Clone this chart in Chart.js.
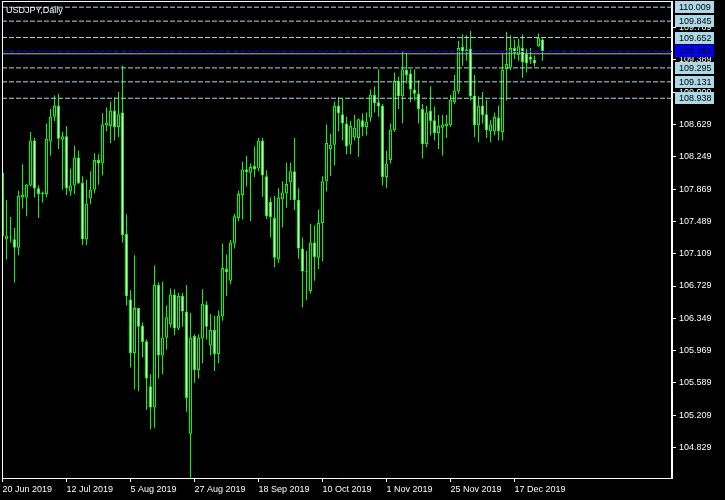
<!DOCTYPE html>
<html>
<head>
<meta charset="utf-8">
<script src="https://cdn.jsdelivr.net/npm/chart.js@4.4.1/dist/chart.umd.min.js"></script>
<style>
  html, body { margin: 0; padding: 0; background: #000; }
  canvas { display: block; }
</style>
</head>
<body>
<canvas id="chart" width="725" height="500"></canvas>
<script>
// USDJPY daily, 20 Jun 2019 .. 26 Dec 2019 (one candle per trading day)
const openP = [
  108.06, 107.28, 107.30, 107.28, 107.18, 107.77, 107.77, 107.91, 108.44, 107.88,
  107.81, 107.81, 108.43, 108.72, 108.85, 108.45, 108.49, 107.84, 107.91, 108.24,
  107.94, 107.28, 107.76, 107.86, 108.21, 108.17, 108.62, 108.61, 108.79, 108.60,
  108.77, 107.34, 106.57, 105.94, 106.47, 106.26, 106.08, 105.55, 105.30, 106.74,
  105.91, 106.12, 106.28, 106.63, 106.23, 106.61, 106.43, 104.99, 106.14, 105.74,
  106.11, 106.51, 106.03, 106.21, 105.93, 106.37, 106.93, 106.79, 107.23, 107.53,
  107.80, 108.10, 108.06, 108.14, 108.11, 108.44, 108.02, 107.72, 107.53, 107.04,
  107.75, 107.82, 107.95, 108.08, 107.74, 107.17, 106.90, 106.67, 107.24, 107.06,
  107.47, 107.96, 108.34, 108.39, 108.85, 108.75, 108.64, 108.39, 108.48, 108.47,
  108.68, 108.60, 108.71, 108.98, 108.89, 108.85, 108.01, 108.21, 108.56, 109.14,
  108.96, 109.27, 109.23, 109.04, 108.99, 108.81, 108.40, 108.79, 108.68, 108.53,
  108.59, 108.61, 108.62, 108.89, 109.02, 109.54, 109.49, 109.52, 108.97, 108.62,
  108.85, 108.75, 108.55, 108.55, 108.71, 108.54, 109.28, 109.30, 109.53, 109.45,
  109.53, 109.46, 109.43, 109.39, 109.55, 109.63
];
const highP = [
  108.10, 107.74, 107.54, 107.41, 107.85, 108.16, 107.93, 108.54, 108.47, 107.91,
  107.84, 108.64, 108.81, 108.97, 108.99, 108.54, 108.61, 108.11, 108.38, 108.32,
  108.02, 107.98, 108.08, 108.29, 108.28, 108.76, 108.83, 108.90, 108.95, 109.01,
  109.32, 107.57, 106.68, 107.09, 106.47, 106.30, 106.10, 105.69, 106.97, 106.77,
  106.78, 106.50, 106.70, 106.69, 106.65, 106.65, 106.74, 106.41, 106.16, 106.16,
  106.69, 106.55, 106.40, 106.38, 106.44, 107.23, 107.10, 107.27, 107.58, 107.85,
  108.19, 108.26, 108.17, 108.37, 108.47, 108.47, 108.09, 107.77, 107.79, 107.88,
  107.96, 108.18, 108.18, 108.47, 107.88, 107.30, 107.14, 107.46, 107.44, 107.63,
  108.02, 108.63, 108.52, 108.90, 108.95, 108.94, 108.72, 108.67, 108.74, 108.70,
  108.76, 108.77, 109.04, 109.08, 109.28, 108.87, 108.32, 108.64, 109.24, 109.19,
  109.49, 109.47, 109.28, 109.28, 109.15, 108.87, 108.85, 109.08, 108.84, 108.74,
  108.74, 108.74, 108.98, 109.21, 109.61, 109.69, 109.68, 109.73, 109.21, 108.96,
  109.01, 108.92, 108.68, 108.77, 108.85, 109.46, 109.72, 109.68, 109.63, 109.64,
  109.69, 109.52, 109.53, 109.44, 109.70, 109.64
];
const lowP = [
  107.26, 107.04, 107.24, 106.77, 107.09, 107.64, 107.55, 107.90, 107.77, 107.53,
  107.71, 107.77, 108.26, 108.67, 108.34, 107.86, 107.80, 107.79, 107.81, 107.93,
  107.21, 107.21, 107.69, 107.82, 107.92, 108.03, 108.55, 108.41, 108.44, 108.48,
  107.24, 106.50, 105.77, 105.51, 105.49, 105.89, 105.27, 105.04, 105.06, 105.64,
  105.69, 105.98, 106.24, 106.15, 106.21, 106.25, 105.25, 104.45, 105.59, 105.64,
  105.82, 106.10, 105.91, 105.73, 105.82, 106.32, 106.61, 106.75, 107.17, 107.49,
  107.51, 107.90, 107.49, 108.01, 108.08, 107.78, 107.52, 107.30, 106.95, 107.00,
  107.42, 107.65, 107.74, 107.62, 107.05, 106.48, 106.56, 106.64, 106.79, 106.93,
  107.02, 107.84, 108.02, 108.15, 108.55, 108.44, 108.28, 108.28, 108.44, 108.25,
  108.49, 108.50, 108.66, 108.77, 108.72, 107.91, 107.88, 108.17, 108.54, 108.81,
  108.64, 109.11, 108.89, 108.91, 108.64, 108.23, 108.36, 108.50, 108.44, 108.34,
  108.26, 108.47, 108.60, 108.87, 108.99, 109.32, 109.38, 108.91, 108.48, 108.42,
  108.64, 108.47, 108.42, 108.50, 108.44, 108.44, 108.91, 109.27, 109.40, 109.38,
  109.18, 109.24, 109.34, 109.31, 109.54, 109.38
];
const closeP = [
  107.31, 107.32, 107.30, 107.18, 107.79, 107.80, 107.92, 108.44, 107.88, 107.81,
  107.81, 108.46, 108.72, 108.85, 108.46, 108.49, 107.88, 107.91, 108.24, 107.94,
  107.28, 107.70, 107.86, 108.21, 108.17, 108.63, 108.65, 108.79, 108.60, 108.75,
  107.33, 106.61, 105.94, 106.47, 106.25, 106.07, 105.64, 105.30, 106.74, 105.91,
  106.12, 106.36, 106.63, 106.23, 106.61, 106.43, 105.41, 106.12, 105.74, 106.12,
  106.52, 106.25, 106.21, 105.93, 106.38, 106.94, 106.89, 107.24, 107.55, 107.81,
  108.10, 108.07, 108.13, 108.10, 108.44, 108.03, 107.55, 107.54, 107.06, 107.77,
  107.83, 107.93, 108.08, 107.74, 107.17, 106.90, 106.89, 107.24, 107.07, 107.47,
  107.96, 108.41, 108.39, 108.85, 108.76, 108.64, 108.37, 108.61, 108.59, 108.69,
  108.60, 108.66, 108.98, 108.88, 108.84, 108.01, 108.17, 108.57, 109.14, 108.96,
  109.28, 109.21, 109.04, 108.99, 108.81, 108.40, 108.77, 108.67, 108.53, 108.61,
  108.63, 108.64, 108.92, 109.03, 109.53, 109.49, 109.51, 108.96, 108.62, 108.85,
  108.74, 108.56, 108.63, 108.72, 108.55, 109.27, 109.34, 109.53, 109.47, 109.55,
  109.36, 109.35, 109.39, 109.35, 109.65, 109.49
];

// axis ticks
const yTicks = [104.829, 105.209, 105.589, 105.969, 106.349, 106.729, 107.109,
  107.489, 107.869, 108.249, 108.629, 109.009, 109.389, 109.769];
const dateTickIdx = [0, 16, 32, 48, 64, 80, 96, 112, 128];
const dateTickLabels = ['20 Jun 2019', '12 Jul 2019', '5 Aug 2019', '27 Aug 2019',
  '18 Sep 2019', '10 Oct 2019', '1 Nov 2019', '25 Nov 2019', '17 Dec 2019'];

// horizontal line objects on the chart
const levelLines = [110.009, 109.845, 109.652, 109.295, 109.131, 108.938];
const blueLine = 109.488;
const bidLine = 109.461;

const GREEN = '#00ff00';
const LEVEL_COLOR = '#add8e6';
const FONT = { family: '"Liberation Sans", Arial, sans-serif', size: 9 };

// 4 px per bar, plot area 2..672 px wide, 2..478 px high
const xMin = -0.125, xMax = 167.375;
const yMin = 104.4703, yMax = 110.0702;

const bodies = openP.map((o, i) => ({ x: i, y: [o, closeP[i]] }));
const bodyFill = openP.map((o, i) => closeP[i] < o ? '#ffffff' : '#000000');
const wicks = lowP.map((l, i) => ({ x: i, y: [l, highP[i]] }));

const hLine = (v, color, dash) => ({
  type: 'line',
  data: [{ x: xMin, y: v }, { x: xMax, y: v }],
  borderColor: color,
  borderWidth: 1,
  borderDash: dash,
  pointRadius: 0,
  order: 0
});

const overlay = {
  id: 'overlay',
  afterDraw(chart) {
    const ctx = chart.ctx;
    const ys = chart.scales.y;
    ctx.save();
    // frame
    ctx.fillStyle = '#ffffff';
    ctx.fillRect(2, 1, 671, 1);
    ctx.fillRect(2, 1, 1, 478);
    // title
    ctx.font = '9px "Liberation Sans", Arial, sans-serif';
    ctx.textBaseline = 'alphabetic';
    ctx.textAlign = 'left';
    ctx.fillText('USDJPY,Daily', 6, 13);
    // price labels of the line objects
    ctx.textBaseline = 'middle';
    const tag = (v, bg, fg) => {
      const y = Math.round(ys.getPixelForValue(v));
      ctx.fillStyle = bg;
      ctx.fillRect(675, y - 6, 39, 12);
      ctx.fillStyle = fg;
      ctx.fillText(v.toFixed(3), 679, y + 0.5);
    };
    levelLines.forEach(v => tag(v, LEVEL_COLOR, '#000000'));
    tag(blueLine, '#0000ff', '#000000');
    ctx.restore();
  }
};

new Chart(document.getElementById('chart'), {
  type: 'bar',
  data: {
    datasets: [
      ...levelLines.map(v => hLine(v, LEVEL_COLOR, [5, 2])),
      hLine(blueLine, '#0000ff', [5, 2]),
      hLine(bidLine, '#b0b0b0', []),
      {
        data: bodies,
        backgroundColor: bodyFill,
        borderColor: GREEN,
        borderWidth: 1,
        borderSkipped: false,
        barThickness: 3,
        minBarLength: 1,
        inflateAmount: 0,
        grouped: false,
        order: 1
      },
      {
        data: wicks,
        backgroundColor: GREEN,
        borderWidth: 0,
        barThickness: 1,
        inflateAmount: 0,
        grouped: false,
        order: 2
      }
    ]
  },
  options: {
    responsive: false,
    animation: false,
    events: [],
    layout: { autoPadding: false, padding: { left: 2, top: 2, right: 0, bottom: 0 } },
    plugins: { legend: { display: false }, tooltip: { enabled: false } },
    scales: {
      x: {
        type: 'linear',
        min: xMin,
        max: xMax,
        offset: false,
        afterBuildTicks: s => { s.ticks = dateTickIdx.map(v => ({ value: v })); },
        afterFit: s => { s.height = 22; s.paddingLeft = 0; s.paddingRight = 0; },
        grid: { offset: false, drawOnChartArea: false, drawTicks: true, tickLength: 4, color: '#ffffff' },
        border: { display: true, color: '#ffffff', width: 1 },
        ticks: {
          align: 'start', maxRotation: 0, autoSkip: false, padding: 2,
          color: '#ffffff', font: FONT,
          callback: (v, i) => dateTickLabels[i]
        }
      },
      y: {
        position: 'right',
        min: yMin,
        max: yMax,
        beginAtZero: false,
        afterBuildTicks: s => { s.ticks = yTicks.map(v => ({ value: v })); },
        afterFit: s => { s.width = 53; s.paddingTop = 0; s.paddingBottom = 0; },
        grid: { drawOnChartArea: false, drawTicks: true, tickLength: 4, color: '#ffffff' },
        border: { display: true, color: '#ffffff', width: 2 },
        ticks: {
          padding: 3, color: '#ffffff', font: FONT,
          callback: v => v.toFixed(3)
        }
      }
    }
  },
  plugins: [overlay]
});
</script>
</body>
</html>
